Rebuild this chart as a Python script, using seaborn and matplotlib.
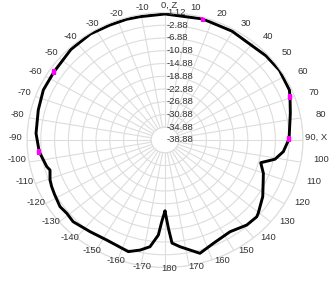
import numpy as np
import pandas as pd
import seaborn as sns
import matplotlib.pyplot as plt
from matplotlib.transforms import offset_copy

sns.set_theme(style="white")
plt.rcParams['font.family'] = ['Liberation Sans', 'DejaVu Sans']

# Radiation pattern (angle in degrees, gain in dB)
angles_deg = [-180, -177.9, -176.3, -172.6, -168.2, -163.1, -151.7, -142.9, -133.9, -128.9,
              -124.5, -118.0, -114.0, -110.6, -105.8, -103.7, -95.8, -86.8, -75.6, -66.0,
              -56.3, -43.8, -33.0, -23.9, -16.4, -10.6,
              0, 16.1, 29.6, 48.0, 56.6, 66.5, 69.7, 77.0, 89.5, 96.1, 100.7, 104.4, 110.1,
              113.8, 122.1, 130.4, 132.2, 138.4, 146.8, 156.6, 164.1, 172.6, 176.4, 178.0, 180]
gain_db = [-16.60, -13.24, -9.00, -5.12, -3.60, -2.28, -3.24, -2.84, -1.92, -2.28,
           -1.96, -2.60, -2.92, -3.28, -4.24, -3.60, -2.24, -1.44, -0.96, -0.28,
           -0.24, 0.50, 0.80, 0.56, 0.60, 0.48,
           0.65, 0.64, 0.40, 0.55, 0.85, 0.44, -0.24, -1.60, -2.92, -4.40, -6.44, -10.24, -8.52,
           -7.76, -5.44, -3.40, -3.00, -3.20, -4.48, -3.56, -1.92, -5.12, -6.48, -11.28, -16.60]

marker_angles = [16.1, 69.7, 89.5, -56.3, -95.8]
marker_gain = [0.64, -0.24, -2.92, -0.24, -2.24]

radial_labels = [1.12, -2.88, -6.88, -10.88, -14.88, -18.88, -22.88, -26.88, -30.88, -34.88, -38.88]
ring_values = [-34.88, -30.88, -26.88, -22.88, -18.88, -14.88, -10.88, -6.88, -2.88, 1.12]

theta_ticks = list(range(0, 360, 10))
theta_labels = []
for a in theta_ticks:
    if a == 0:
        theta_labels.append("0, Z")
    elif a == 90:
        theta_labels.append("90, X")
    elif a <= 180:
        theta_labels.append(str(a))
    else:
        theta_labels.append(str(a - 360))

df = pd.DataFrame({"theta": np.deg2rad(angles_deg), "gain": gain_db})
dm = pd.DataFrame({"theta": np.deg2rad(marker_angles), "gain": marker_gain})

W, H = 329, 282
fig = plt.figure(figsize=(W / 100, H / 100), dpi=100)
fig.patch.set_facecolor("white")
cx, cy, Rh, Rv = 165, 140, 138, 127.5
ax = fig.add_axes([(cx - Rh) / W, (H - cy - Rv) / H, 2 * Rh / W, 2 * Rv / H], projection="polar")
ax.set_aspect("auto")
ax.set_facecolor("white")
ax.set_theta_zero_location("N")
ax.set_theta_direction(-1)

grid_col = "#dddddd"
ax.set_rorigin(-38.88)
ax.set_ylim(ring_values[0], ring_values[-1])
ax.set_yticks(ring_values)
ax.set_yticklabels([])
ax.set_thetagrids(theta_ticks, [""] * len(theta_ticks))
ax.grid(True, color=grid_col, linewidth=0.8)
for sp in ax.spines.values():
    sp.set_color(grid_col)
    sp.set_linewidth(0.8)
ax.tick_params(axis="x", length=0)

sns.lineplot(data=df, x="theta", y="gain", ax=ax, color="black", linewidth=2.1,
             estimator=None, sort=True, legend=False)
sns.scatterplot(data=dm, x="theta", y="gain", ax=ax, color="#ff00ff", marker="s",
                s=11, edgecolor="#ff00ff", linewidth=0.3, zorder=5, legend=False)
ax.set_xlabel("")
ax.set_ylabel("")

txt_col = "#333333"
fs = 6.8
# angular tick labels placed around the (stretched) dial
for a, lab in zip(theta_ticks, theta_labels):
    t = np.deg2rad(a)
    px = 169 + 154 * np.sin(t)
    py = 137 - 131.5 * np.cos(t)
    ha = "center"
    if a == 90:
        px, ha = 305, "left"
    fig.text(px / W, 1 - py / H, lab, ha=ha, va="center", fontsize=fs, color=txt_col)

trans = offset_copy(ax.transData, fig=fig, x=2, y=0, units="dots")
for v in radial_labels:
    ax.text(0, v, f"{v:.2f}", transform=trans, ha="left", va="center",
            fontsize=fs, color=txt_col, zorder=6)

fig.savefig("out.png", dpi=100, facecolor="white")
